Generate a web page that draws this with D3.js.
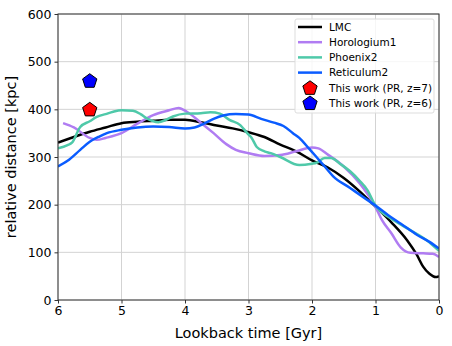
<!DOCTYPE html>
<html>
<head>
<meta charset="utf-8">
<script src="https://cdn.jsdelivr.net/npm/d3@7"></script>
<style>
  body { margin: 0; background: #fff; }
  text { font-family: "DejaVu Sans", sans-serif; fill: #000; }
</style>
</head>
<body>
<script>
// lookback time [Gyr], relative distance [kpc]
var lmcT = [6, 5.75, 5.5, 5.25, 5, 4.75, 4.5, 4.25, 4, 3.75, 3.5, 3.25, 3, 2.75, 2.5, 2.25, 2, 1.75, 1.5, 1.25, 1, 0.75, 0.5, 0.35, 0.25, 0.15, 0.05, 0];
var lmcD = [330, 342, 353, 362, 371, 374, 376, 378, 378, 373, 366, 360, 352, 342, 326, 312, 293, 278, 256, 228, 196, 163, 125, 95, 70, 55, 48, 50];

var horT = [5.92, 5.75, 5.5, 5.39, 5.25, 5, 4.75, 4.5, 4.25, 4.1, 3.97, 3.75, 3.55, 3.35, 3.2, 3, 2.75, 2.5, 2.25, 2, 1.9, 1.75, 1.5, 1.25, 1, 0.9, 0.75, 0.6, 0.45, 0.25, 0.1, 0];
var horD = [371, 362, 340, 336, 340, 350, 370, 388, 398, 403, 395, 372, 350, 327, 315, 308, 302, 304, 312, 320, 318, 305, 280, 245, 195, 168, 140, 110, 99, 98, 97, 90];

var phxT = [6, 5.85, 5.78, 5.65, 5.5, 5.39, 5.25, 5.13, 5, 4.82, 4.7, 4.6, 4.42, 4.3, 4.19, 4, 3.75, 3.6, 3.45, 3.3, 3.13, 3.02, 2.95, 2.87, 2.75, 2.65, 2.5, 2.2, 2, 1.93, 1.8, 1.7, 1.55, 1.4, 1.25, 1.13, 1, 0.77, 0.6, 0.46, 0.2, 0];
var phxD = [318, 325, 330, 363, 375, 384, 390, 395, 398, 397, 390, 381, 373, 378, 385, 391, 392, 394, 391, 378, 367, 350, 340, 321, 312, 308, 300, 283, 286, 288, 298, 298, 285, 270, 250, 231, 198, 172, 158, 147, 126, 103];

var retT = [6, 5.85, 5.65, 5.5, 5.35, 5.23, 5, 4.75, 4.5, 4.25, 4, 3.85, 3.7, 3.55, 3.4, 3.2, 3, 2.8, 2.6, 2.45, 2.3, 2.2, 2.05, 1.93, 1.8, 1.67, 1.4, 1.13, 1, 0.8, 0.6, 0.35, 0.15, 0];
var retD = [280, 292, 315, 332, 343, 350, 357, 362, 364, 363, 360, 362, 370, 380, 387, 390, 389, 380, 372, 365, 350, 340, 318, 300, 280, 260, 235, 210, 198, 178, 160, 137, 122, 108];

var seriesNames = ["LMC", "Horologium1", "Phoenix2", "Reticulum2"];
var seriesColors = ["#000000", "#b07cf2", "#4fc9a9", "#0a5cff"];

var workLabels = ["This work (PR, z=7)", "This work (PR, z=6)"];
var workT = [5.5, 5.5];
var workD = [400, 460];
var workColors = ["#ff0000", "#0000ff"];

var xTicks = [6, 5, 4, 3, 2, 1, 0];
var yTicks = [0, 100, 200, 300, 400, 500, 600];

var W = 452, H = 346;
var margin = {top: 14, right: 13, bottom: 46, left: 58},
    width = W - margin.left - margin.right,
    height = H - margin.top - margin.bottom;

var x = d3.scaleLinear().domain([6, 0]).range([0, width]);
var y = d3.scaleLinear().domain([0, 600]).range([height, 0]);

var svg = d3.select("body").append("svg")
    .attr("width", W)
    .attr("height", H)
  .append("g")
    .attr("transform", "translate(" + margin.left + "," + margin.top + ")");

// grid
svg.append("g").selectAll("line").data(xTicks).enter().append("line")
    .attr("x1", function(d) { return x(d); }).attr("x2", function(d) { return x(d); })
    .attr("y1", 0).attr("y2", height)
    .attr("stroke", "#d3d3d3").attr("stroke-width", 1);
svg.append("g").selectAll("line").data(yTicks).enter().append("line")
    .attr("y1", function(d) { return y(d); }).attr("y2", function(d) { return y(d); })
    .attr("x1", 0).attr("x2", width)
    .attr("stroke", "#d3d3d3").attr("stroke-width", 1);

var series = [
  {t: lmcT, d: lmcD},
  {t: horT, d: horD},
  {t: phxT, d: phxD},
  {t: retT, d: retD}
];

var line = d3.line()
    .x(function(p) { return x(p[0]); })
    .y(function(p) { return y(p[1]); })
    .curve(d3.curveMonotoneX);

var clip = svg.append("clipPath").attr("id", "clip")
  .append("rect").attr("width", width).attr("height", height);

svg.append("g").attr("clip-path", "url(#clip)")
  .selectAll("path").data(series).enter().append("path")
    .attr("d", function(s) { return line(d3.zip(s.t, s.d)); })
    .attr("fill", "none")
    .attr("stroke", function(s, i) { return seriesColors[i]; })
    .attr("stroke-width", 2.5)
    .attr("stroke-linejoin", "round");

function pentagon(cx, cy, r) {
  var pts = d3.range(5).map(function(k) {
    var a = -Math.PI / 2 + k * 2 * Math.PI / 5;
    return [cx + r * Math.cos(a), cy + r * Math.sin(a)];
  });
  return "M" + pts.join("L") + "Z";
}

svg.append("g").selectAll("path").data(workT).enter().append("path")
    .attr("d", function(t, i) { return pentagon(x(t), y(workD[i]) + 0.5, 7.5); })
    .attr("fill", function(t, i) { return workColors[i]; })
    .attr("stroke", "#000").attr("stroke-width", 1);

// axes
var xAxis = svg.append("g")
    .attr("transform", "translate(0," + height + ")")
    .call(d3.axisBottom(x).tickValues(xTicks).tickSize(3.5).tickPadding(3).tickFormat(d3.format("d")));
var yAxis = svg.append("g")
    .call(d3.axisLeft(y).tickValues(yTicks).tickSize(3.5).tickPadding(3).tickFormat(d3.format("d")));
[xAxis, yAxis].forEach(function(a) {
  a.select(".domain").remove();
  a.selectAll("line").attr("stroke", "#333");
  a.selectAll("text").style("font-size", "12.5px").style("font-family", "DejaVu Sans, sans-serif");
});

svg.append("rect")
    .attr("width", width).attr("height", height)
    .attr("fill", "none").attr("stroke", "#333").attr("stroke-width", 1);

svg.append("text")
    .attr("x", width / 2).attr("y", height + 38)
    .attr("text-anchor", "middle")
    .style("font-size", "14.5px")
    .text("Lookback time [Gyr]");
svg.append("text")
    .attr("transform", "translate(" + (-42) + "," + (height / 2) + ") rotate(-90)")
    .attr("text-anchor", "middle")
    .style("font-size", "14.5px")
    .text("relative distance [kpc]");

// legend
var lg = svg.append("g").attr("transform", "translate(" + (295 - margin.left) + "," + (19 - margin.top) + ")");
lg.append("rect")
    .attr("width", 139).attr("height", 94).attr("rx", 2)
    .attr("fill", "#fff").attr("fill-opacity", 0.8)
    .attr("stroke", "#ddd");
seriesNames.forEach(function(name, i) {
  var yy = 8 + i * 15.2;
  lg.append("line").attr("x1", 3).attr("x2", 27).attr("y1", yy).attr("y2", yy)
    .attr("stroke", seriesColors[i]).attr("stroke-width", 2.5);
  lg.append("text").attr("x", 34).attr("y", yy + 3.8).style("font-size", "10.5px").text(name);
});
workLabels.forEach(function(name, i) {
  var yy = 8 + (i + 4) * 15.2;
  lg.append("path").attr("d", pentagon(15, yy + 0.5, 7.5))
    .attr("fill", workColors[i]).attr("stroke", "#000").attr("stroke-width", 1);
  lg.append("text").attr("x", 34).attr("y", yy + 3.8).style("font-size", "10.5px").text(name);
});
</script>
</body>
</html>
